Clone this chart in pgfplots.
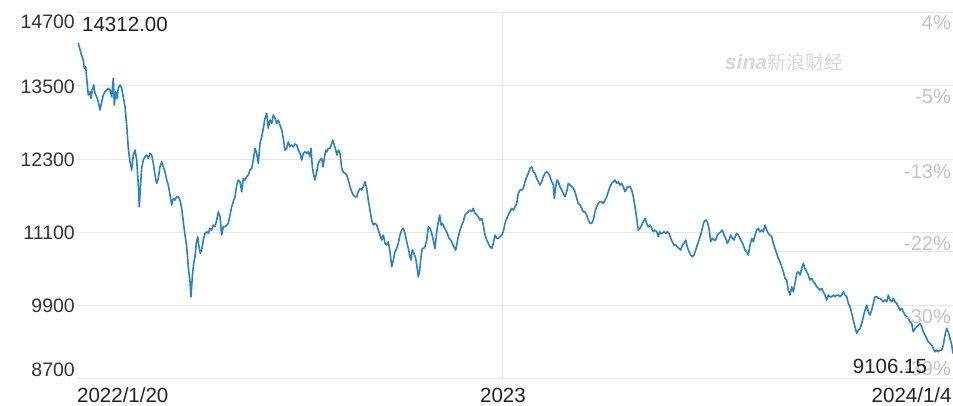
\documentclass[border=0pt]{standalone}
\usepackage{pgfplots}
\pgfplotsset{compat=1.18}
\usepackage{fontspec}
\setmainfont{Liberation Sans}
\newfontfamily\cjk{Noto Sans CJK SC}
\definecolor{linec}{HTML}{2C80C6}
\definecolor{gridc}{HTML}{E6E6E6}
\definecolor{lab}{HTML}{333333}
\definecolor{pct}{HTML}{C4C4C4}
\definecolor{wm}{HTML}{D9D9D9}
\begin{document}
\begin{tikzpicture}
\useasboundingbox (-77pt,-26.7pt) rectangle (876pt,378.3pt);
\begin{axis}[
  at={(0pt,0pt)}, anchor=south west,
  scale only axis, width=876pt, height=365.6pt,
  xmin=0, xmax=876, ymin=8700, ymax=14700,
  xtick={425}, ytick={8700,9900,11100,12300,13500,14700},
  xticklabels={}, yticklabels={}, scaled ticks=false,
  major tick length=0pt,
  grid=major, grid style={draw=gridc, line width=0.8pt},
  axis line style={draw=none},
  clip=true,
]
\addplot[linec, line width=1.6pt, line join=round] coordinates {
(1.3,14200) (4.0,14033) (6.3,13924) (7.3,13787) (8.7,13814) (9.7,13623)
(11.3,13349) (13.0,13403) (14.0,13295) (15.3,13431) (16.7,13513) (18.0,13377)
(19.7,13321) (21.3,13239) (23.0,13103) (24.7,13239) (26.3,13349) (28.0,13403)
(29.7,13431) (31.3,13459) (33.0,13431) (34.7,13321) (36.3,13623) (37.3,13185)
(38.7,13403) (40.0,13295) (41.3,13459) (43.0,13513) (44.7,13459) (46.3,13321)
(48.0,13157) (49.7,12856) (51.3,12474) (53.0,12254) (54.7,12118) (56.3,12364)
(58.0,12446) (59.7,12282) (61.3,11872) (62.3,11515) (63.3,11817) (64.7,12146)
(66.3,12282) (68.0,12336) (69.7,12364) (71.3,12310) (73.0,12392) (74.7,12364)
(76.3,12228) (78.0,12036) (79.7,11899) (81.3,11981) (83.0,12172) (84.7,12254)
(86.3,12172) (88.0,12090) (89.7,11954) (91.3,11872) (93.0,11707) (94.7,11543)
(96.3,11653) (98.0,11625) (99.7,11680) (101.3,11680) (103.0,11625) (104.7,11489)
(106.3,11269) (108.0,11051)
(109.7,10859) (111.3,10530) (113.0,10284) (114.0,10038) (115.3,10366) (116.7,10586)
(118.0,10695) (119.3,10915) (120.7,11023) (122.0,10859) (123.3,10750) (124.7,10805)
(126.3,10969) (128.0,11079) (129.7,11105) (131.3,11079) (133.0,11161) (134.7,11133)
(136.3,11215) (138.0,11187) (139.7,11297) (141.3,11433) (143.0,11351) (144.7,11051)
(146.3,11187) (148.0,11187) (149.7,11215) (151.3,11243) (153.0,11379) (154.7,11515)
(156.3,11597) (158.0,11680) (159.7,11872) (161.3,11954) (163.0,11926) (164.7,11762)
(166.3,11981) (168.0,11954) (169.7,12008) (171.3,12036) (173.0,12118) (174.7,12146)
(176.3,12282) (178.0,12474) (179.7,12392) (181.3,12228) (183.0,12556) (184.7,12664)
(186.3,12802) (188.0,12966) (189.7,13049) (191.3,12802) (193.0,12939) (194.7,12884)
(196.3,13021) (198.0,12966) (199.7,12884) (201.3,12939) (203.0,12856) (204.7,12774)
(206.3,12638) (208.0,12446) (209.7,12474) (211.3,12582) (213.0,12500) (214.7,12528)
(216.3,12500) (218.0,12545)
(219.7,12528) (221.3,12446) (223.0,12392) (224.7,12282) (226.3,12392) (228.0,12418)
(229.7,12392) (231.3,12418) (233.0,12336) (234.0,12474) (235.3,12172) (236.7,12036)
(238.0,11954) (239.7,12090) (241.3,12228) (243.0,12282) (244.7,12310) (246.0,12172)
(247.3,12310) (248.7,12446) (250.0,12418) (251.3,12474) (253.0,12474) (254.7,12556)
(255.7,12610) (257.3,12528) (258.7,12446) (260.0,12364) (261.3,12446) (263.0,12392)
(264.7,12146) (266.3,12090) (268.0,12064) (269.7,12036) (271.3,11954) (273.0,11844)
(274.7,11762) (276.3,11707) (278.0,11680) (279.7,11680) (281.3,11762) (283.0,11817)
(284.7,11790) (286.3,11844) (288.0,11926) (289.7,11817) (291.3,11625) (293.0,11461)
(294.7,11297) (296.3,11215) (298.0,11243) (299.7,11215) (301.3,11133) (303.0,11051)
(304.7,10969) (306.3,11051) (308.0,10915) (309.7,10887) (311.3,10941) (313.0,10777)
(314.7,10530) (316.3,10640) (318.0,10777) (319.7,10832) (321.3,10915) (323.0,11051)
(324.7,11133) (326.3,11161) (328.0,11079)
(329.7,10941) (331.3,10832) (333.0,10695) (334.0,10640) (335.3,10805) (337.0,10750)
(338.7,10668) (340.0,10530) (341.3,10366) (342.7,10476) (344.0,10695) (345.3,10832)
(346.7,10832) (348.0,10859) (349.7,10969) (351.3,11187) (353.0,11161) (354.7,11079)
(356.3,10969) (358.0,10832) (359.7,11105) (361.3,11269) (362.7,11379) (364.0,11215)
(365.3,11243) (367.0,11187) (368.7,11133) (370.3,11079) (372.0,10997) (373.7,10969)
(375.3,10915) (377.0,10859) (378.7,10805) (380.0,10915) (381.3,11023) (383.0,11133)
(384.7,11215) (386.3,11269) (388.0,11379) (389.7,11407) (391.3,11433) (393.0,11461)
(394.7,11433) (396.3,11489) (398.0,11407) (399.7,11379) (401.3,11351) (403.0,11297)
(404.7,11325) (406.3,11215) (408.0,11051) (409.7,10969) (411.3,10915) (413.0,10859)
(414.7,10832) (416.3,10915) (418.0,11051) (419.7,10997) (421.3,10997) (423.0,11023)
(424.7,11051) (426.3,11105) (428.0,11243) (429.7,11325) (431.3,11379) (433.0,11433)
(434.7,11489) (436.3,11461) (438.0,11515)
(439.7,11571) (441.3,11735) (443.0,11790) (444.7,11790) (446.3,11817) (448.0,11926)
(449.7,12008) (451.3,12064) (453.0,12146) (454.7,12172) (456.3,12090) (458.0,12064)
(459.7,11981) (461.3,11926) (463.0,11872) (464.7,11926) (466.3,12008) (468.0,12064)
(469.7,12090) (471.3,12064) (473.0,12008) (474.7,11926) (476.3,11872) (477.3,11653)
(478.7,11844) (480.0,11954) (481.3,11926) (483.0,11844) (484.7,11790) (486.3,11735)
(488.0,11680) (489.7,11762) (491.3,11899) (493.0,11872) (494.7,11844) (496.3,11817)
(498.0,11762) (499.7,11653) (501.3,11571) (503.0,11543) (504.7,11489) (506.3,11433)
(508.0,11433) (509.7,11379) (511.3,11297) (513.0,11243) (514.7,11243) (516.3,11297)
(518.0,11433) (519.7,11515) (521.3,11571) (523.0,11597) (524.7,11597) (526.3,11571)
(528.0,11625) (529.7,11680) (531.3,11762) (533.0,11844) (534.7,11899) (536.3,11926)
(538.0,11954) (539.7,11899) (541.3,11926) (543.0,11872) (544.7,11899) (546.3,11844)
(548.0,11762)
(549.7,11817) (551.3,11844) (553.0,11844) (554.7,11790) (556.3,11680) (558.0,11515)
(559.7,11325) (561.3,11133) (563.0,11161) (564.7,11215) (566.3,11269) (568.0,11325)
(569.7,11243) (571.3,11187) (573.0,11215) (574.7,11161) (576.3,11105) (578.0,11133)
(579.7,11105) (581.3,11023) (582.7,11105) (584.0,11079) (585.3,11079) (587.0,11105)
(588.7,11079) (590.3,11105) (592.0,11079) (593.7,10997) (595.3,10941) (597.0,10887)
(598.7,10887) (600.3,10859) (602.0,10832) (603.7,10805) (605.3,10887) (607.0,10915)
(608.7,10969) (610.3,10859) (612.0,10777) (613.7,10722) (615.3,10695) (617.0,10722)
(618.7,10805) (620.3,10887) (622.0,10969) (623.7,11051) (625.3,11161) (627.0,11269)
(628.7,11297) (630.3,11269) (632.0,11161) (633.7,10941) (635.3,10997) (637.0,10969)
(638.7,10969) (640.3,11051) (642.0,11079) (643.7,11105) (645.3,11133) (647.0,11051)
(648.7,10997) (650.3,10915) (652.0,10969) (653.7,11051) (655.3,10997) (657.0,10969)
(658.0,11023)
(659.7,11079) (661.3,11051) (663.0,10997) (664.7,10941) (666.3,10887) (668.0,10805)
(669.7,10777) (671.3,10722) (673.0,10887) (674.7,10997) (676.3,10941) (678.0,11051)
(679.7,11133) (681.3,11161) (683.0,11105) (684.7,11133) (686.3,11105) (688.0,11215)
(689.7,11133) (691.3,11079) (693.0,11051) (694.7,11023) (696.3,10915) (698.0,10832)
(699.7,10750) (701.3,10668) (703.0,10612) (704.7,10530) (706.3,10448) (708.0,10340)
(709.7,10312) (711.3,10148) (713.0,10066) (714.7,10202) (716.3,10120) (718.0,10258)
(719.7,10422) (721.3,10448) (723.0,10394) (724.7,10504) (726.3,10586) (728.0,10504)
(729.7,10448) (731.3,10394) (733.0,10312) (734.7,10340) (736.3,10284) (738.0,10258)
(739.7,10202) (741.3,10176) (743.0,10148) (744.7,10176) (746.3,10120) (748.0,10066)
(749.7,9984) (751.3,10066) (753.0,10038) (754.7,10038) (756.3,10066) (758.0,10038)
(759.7,10066) (761.3,10066) (763.0,10038) (764.7,10066) (766.3,10120) (768.0,10066)
(769.7,10038) (771.3,9930) (773.0,9874) (774.7,9765) (776.3,9655) (778.0,9545)
(779.7,9437) (781.3,9491) (783.0,9519) (784.7,9601) (786.3,9709) (788.0,9820)
(789.7,9902) (791.3,9792) (793.0,9738) (794.7,9820) (796.3,9930) (798.0,10038)
(799.7,10038) (801.3,10012) (803.0,10012) (804.7,9984) (806.3,9956) (808.0,9984)
(809.7,9956) (811.3,10066) (813.0,9984) (814.7,9956) (816.3,10012) (818.0,9956)
(819.7,9930) (821.3,9874) (823.0,9820) (824.7,9847) (826.3,9792) (828.0,9738)
(829.7,9709) (831.3,9683) (833.0,9628) (834.7,9601) (836.3,9463) (838.0,9519)
(839.7,9545) (841.3,9573) (843.0,9601) (844.7,9545) (846.3,9463) (848.0,9409)
(849.7,9355) (851.3,9299) (853.0,9273) (854.7,9245) (856.3,9191) (858.0,9135)
(859.7,9163) (861.3,9135) (863.0,9163) (864.7,9163) (866.3,9245) (868.0,9409)
(869.7,9519) (871.3,9463) (873.0,9355) (874.7,9245) (876.0,9106.15)
};
\end{axis}
% faint box line near -22%
\draw[gridc, line width=0.8pt] (701pt,126.6pt) -- (876pt,126.6pt);
% watermark
\node[anchor=center, text=wm, inner sep=0pt] at (707pt,316pt)
  {\fontsize{21}{24}\selectfont\bfseries\itshape sina\cjk\mdseries\upshape\fontsize{19}{22}\selectfont 新浪财经};
% left tick labels
\begin{scope}[every node/.style={anchor=base east, inner sep=0pt, text=lab, font=\fontsize{19.5}{22}\selectfont}]
\node at (-2pt,350pt) {14700};
\node at (-2pt,285pt) {13500};
\node at (-2pt,211.9pt) {12300};
\node at (-2pt,138.7pt) {11100};
\node at (-2pt,65.6pt) {9900};
\node at (-2pt,1.6pt) {8700};
\end{scope}
% right percentage labels
\begin{scope}[every node/.style={anchor=base east, inner sep=0pt, text=pct, font=\fontsize{20}{22}\selectfont}]
\node at (874pt,348.3pt) {4\%};
\node at (874pt,275pt) {-5\%};
\node at (874pt,200pt) {-13\%};
\node at (874pt,128.3pt) {-22\%};
\node at (874pt,55pt) {-30\%};
\node at (874pt,3.3pt) {-39\%};
\end{scope}
% annotations
\begin{scope}[every node/.style={inner sep=0pt, text=black!87, font=\fontsize{20.5}{23}\selectfont}]
\node[anchor=base west] at (5pt,346.6pt) {14312.00};
\node[anchor=base west] at (775.7pt,5pt) {9106.15};
\node[anchor=base west] at (0pt,-23.7pt) {2022/1/20};
\node[anchor=base] at (426pt,-23.7pt) {2023};
\node[anchor=base east] at (874.7pt,-23.7pt) {2024/1/4};
\end{scope}
\end{tikzpicture}
\end{document}
